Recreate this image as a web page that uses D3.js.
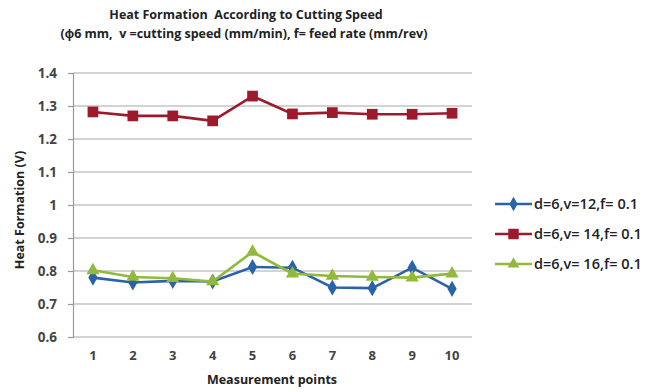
<!DOCTYPE html>
<html>
<head>
<meta charset="utf-8">
<script src="https://cdn.jsdelivr.net/npm/d3@7"></script>
<style>
  body { margin: 0; background: #fff; }
  svg text { font-family: "Open Sans", "Liberation Sans", sans-serif; }
</style>
</head>
<body>
<svg id="chart" width="657" height="392"></svg>
<script>
var points = [1, 2, 3, 4, 5, 6, 7, 8, 9, 10];
var yTicks = [0.6, 0.7, 0.8, 0.9, 1, 1.1, 1.2, 1.3, 1.4];
var seriesNames = ['d=6,v=12,f= 0.1', 'd=6,v= 14,f= 0.1', 'd=6,v= 16,f= 0.1'];
var v12 = [0.78, 0.765, 0.77, 0.768, 0.812, 0.81, 0.75, 0.748, 0.81, 0.746];
var v14 = [1.282, 1.27, 1.27, 1.255, 1.33, 1.276, 1.28, 1.275, 1.275, 1.278];
var v16 = [0.802, 0.782, 0.778, 0.768, 0.858, 0.792, 0.785, 0.782, 0.78, 0.792];
var colors = ['#2b63a8', '#9c1a2c', '#93b93c'];
var shapes = [d3.symbolDiamond, d3.symbolSquare, d3.symbolTriangle];

var svg = d3.select('#chart');
// note: "top" is a read-only global, so use other names
var plotLeft = 73, plotRight = 472, plotTop = 73, plotBottom = 337;

var x = d3.scaleBand().domain(points).range([plotLeft, plotRight]);
var y = d3.scaleLinear().domain([0.6, 1.4]).range([plotBottom, plotTop]);

// title
svg.append('text').attr('x', 246).attr('y', 19).attr('text-anchor', 'middle')
    .attr('font-size', 12.5).attr('font-weight', 'bold').attr('fill', '#222')
    .attr('xml:space', 'preserve')
    .text('Heat Formation  According to Cutting Speed');
svg.append('text').attr('x', 244).attr('y', 38).attr('text-anchor', 'middle')
    .attr('font-size', 12.5).attr('font-weight', 'bold').attr('fill', '#222')
    .attr('xml:space', 'preserve')
    .text('(\u03d56 mm,  v =cutting speed (mm/min), f= feed rate (mm/rev)');

// gridlines
svg.append('g').selectAll('line').data(yTicks).enter().append('line')
    .attr('x1', plotLeft).attr('x2', plotRight)
    .attr('y1', function(d) { return y(d); }).attr('y2', function(d) { return y(d); })
    .attr('stroke', '#a8a8a8').attr('stroke-width', 1.2);

// y axis
var yAxis = d3.axisLeft(y).tickValues(yTicks).tickSize(5).tickPadding(11)
    .tickFormat(function(d) { return d === 1 ? '1' : d3.format('.1f')(d); });
var gy = svg.append('g').attr('transform', 'translate(' + plotLeft + ',0)').call(yAxis);
gy.select('.domain').attr('stroke', '#999').attr('stroke-width', 1.2);
gy.selectAll('.tick line').attr('stroke', '#999').attr('stroke-width', 1.2);
gy.selectAll('text').attr('font-size', 13.5).attr('font-weight', 'bold').attr('fill', '#444');

// x axis
var xAxis = d3.axisBottom(x).tickSize(0).tickPadding(14);
var gx = svg.append('g').attr('transform', 'translate(0,' + plotBottom + ')').call(xAxis);
gx.select('.domain').remove();
gx.selectAll('text').attr('font-size', 13).attr('font-weight', 'bold').attr('fill', '#444');

svg.append('text').attr('x', 272).attr('y', 384).attr('text-anchor', 'middle')
    .attr('font-size', 12.5).attr('font-weight', 'bold').attr('fill', '#222')
    .text('Measurement points');
svg.append('text').attr('transform', 'translate(24,210) rotate(-90)').attr('text-anchor', 'middle')
    .attr('font-size', 12.5).attr('font-weight', 'bold').attr('fill', '#222')
    .text('Heat Formation (V)');

// series
var allSeries = [v12, v14, v16];
var line = d3.line()
    .x(function(d, i) { return x(points[i]) + x.bandwidth() / 2; })
    .y(function(d) { return y(d); });

allSeries.forEach(function(vals, s) {
    svg.append('path').datum(vals).attr('d', line)
        .attr('fill', 'none').attr('stroke', colors[s]).attr('stroke-width', 2.6);
    svg.append('g').selectAll('path').data(vals).enter().append('path')
        .attr('d', d3.symbol().type(shapes[s]).size(s === 1 ? 115 : 75))
        .attr('transform', function(d, i) {
            return 'translate(' + (x(points[i]) + x.bandwidth() / 2) + ',' + y(d) + ')';
        })
        .attr('fill', colors[s]);
});

// legend
var legend = svg.append('g').selectAll('g').data(seriesNames).enter().append('g')
    .attr('transform', function(d, i) { return 'translate(495,' + (204 + i * 30) + ')'; });
legend.append('line').attr('x1', 0).attr('x2', 37)
    .attr('stroke', function(d, i) { return colors[i]; }).attr('stroke-width', 2.6);
legend.append('path')
    .attr('d', function(d, i) { return d3.symbol().type(shapes[i]).size(i === 1 ? 110 : 60)(); })
    .attr('transform', 'translate(18.5,0)')
    .attr('fill', function(d, i) { return colors[i]; });
legend.append('text').attr('x', 39).attr('y', 5)
    .attr('font-size', 14.5).attr('font-weight', 600).attr('fill', '#222')
    .text(function(d) { return d; });
</script>
</body>
</html>
